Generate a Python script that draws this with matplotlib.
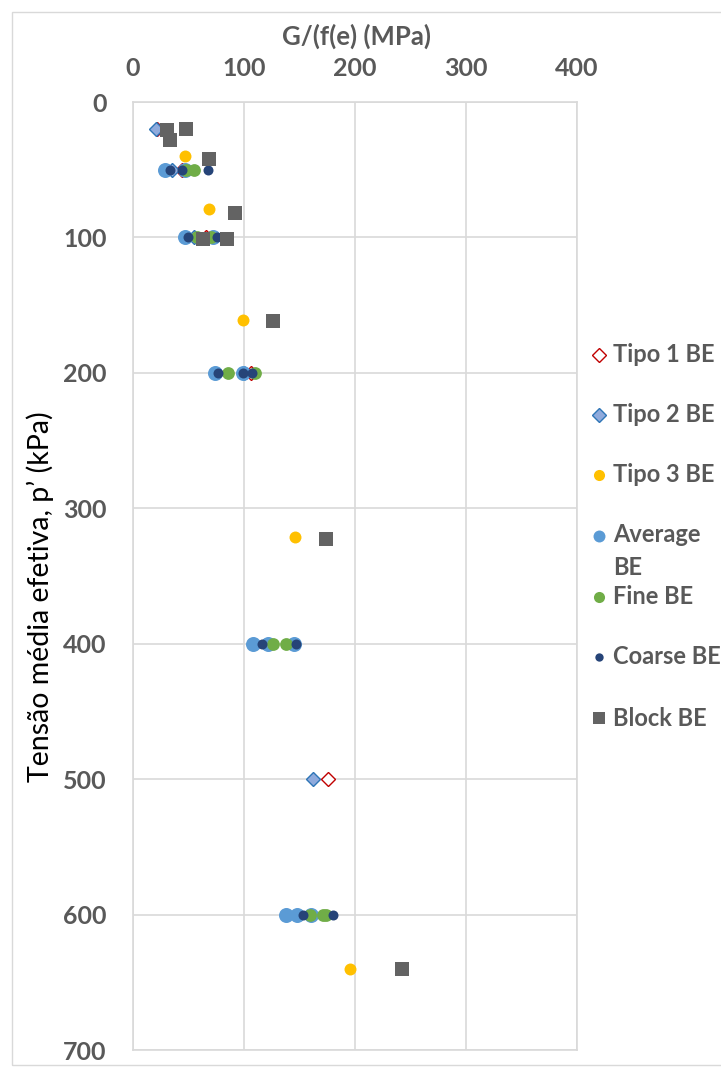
import numpy as np
import matplotlib.pyplot as plt
from matplotlib.lines import Line2D
from matplotlib.patches import Rectangle

# Dados: G/f(e) (MPa) vs p' (kPa)
tipo1_g = [22, 44, 66, 106, 176]
tipo1_p = [20, 50, 100, 200, 500]
tipo2_g = [21, 35, 55, 100, 162]
tipo2_p = [20, 50, 100, 200, 500]
tipo3_g = [47, 68.5, 99, 146, 195.5]
tipo3_p = [40, 79, 161, 321, 640]
average_g = [29, 47, 47, 72, 74, 99, 108, 122, 145, 138, 148, 160]
average_p = [50, 50, 100, 100, 200, 200, 400, 400, 400, 600, 600, 600]
fine_g = [48, 55, 58, 70, 86, 110, 126, 138, 159, 171, 174]
fine_p = [50, 50, 100, 100, 200, 200, 400, 400, 600, 600, 600]
coarse_g = [33, 44, 67.5, 49.5, 76, 76.5, 99, 107, 116, 147, 153, 180]
coarse_p = [50, 50, 50, 100, 100, 200, 200, 200, 400, 400, 600, 600]
block_g = [30.5, 33, 48, 68.5, 92, 63, 85, 126, 174, 242]
block_p = [21, 28, 20, 42, 82, 101, 101, 162, 323, 640]

plt.rcParams['font.family'] = ['Lato', 'DejaVu Sans']
grey = '#595959'

fig = plt.figure(figsize=(7.21, 10.73), dpi=100)
ax = fig.add_axes([0.1845, 0.0214, 0.6158, 0.8835])

series = [
    ('Tipo 1 BE', tipo1_g, tipo1_p, dict(marker='D', ms=7.5, mfc='white', mec='#C00000', mew=1.0)),
    ('Tipo 2 BE', tipo2_g, tipo2_p, dict(marker='D', ms=7.5, mfc='#8FAADC', mec='#2E75B6', mew=1.0)),
    ('Tipo 3 BE', tipo3_g, tipo3_p, dict(marker='o', ms=8.6, mfc='#FFC000', mec='#FFC000', mew=0)),
    ('Average\nBE', average_g, average_p, dict(marker='o', ms=10.8, mfc='#5B9BD5', mec='#5B9BD5', mew=0)),
    ('Fine BE', fine_g, fine_p, dict(marker='o', ms=9.2, mfc='#70AD47', mec='#70AD47', mew=0)),
    ('Coarse BE', coarse_g, coarse_p, dict(marker='o', ms=7.2, mfc='#264478', mec='#264478', mew=0)),
    ('Block BE', block_g, block_p, dict(marker='s', ms=9.4, mfc='#636363', mec='#636363', mew=0)),
]

for i, (name, g, p, st) in enumerate(series):
    ax.plot(g, p, ls='none', zorder=3 + i, **st)

ax.set_xlim(0, 400)
ax.set_ylim(700, 0)
ax.set_xticks([0, 100, 200, 300, 400])
ax.set_yticks(np.arange(0, 701, 100))
ax.xaxis.tick_top()
ax.tick_params(length=0, labelsize=18, labelcolor=grey)
ax.tick_params(axis='x', pad=16)
ax.tick_params(axis='y', pad=19)
for lbl in ax.get_xticklabels() + ax.get_yticklabels():
    lbl.set_fontweight('bold')
ax.grid(True, color='#D9D9D9', lw=1.2)
for s in ax.spines.values():
    s.set_color('#D9D9D9')
    s.set_linewidth(1.2)

fig.text(356 / 721, 1 - 36 / 1073, 'G/(f(e) (MPa)', ha='center', va='center',
         fontsize=18.5, fontweight='bold', color=grey)
fig.text(40 / 721, 1 - 597 / 1073, 'Tensão média efetiva, p’ (kPa)', rotation=90,
         ha='center', va='center', fontsize=20.5, color='black')

# legenda manual
rows = [355, 415, 475, 536, 597, 657, 718]
leg_ms = [7.5, 7.5, 8.0, 8.6, 8.0, 6.0, 8.5]
for (name, g, p, st), yy, lm in zip(series, rows, leg_ms):
    yf = 1 - yy / 1073
    st2 = dict(st, ms=lm)
    fig.add_artist(Line2D([599 / 721], [yf], ls='none', transform=fig.transFigure, **st2))
    if '\n' in name:
        fig.text(613 / 721, 1 - (yy - 13) / 1073, name, ha='left', va='top',
                 fontsize=17, fontweight='bold', color=grey, linespacing=1.55)
    else:
        fig.text(613 / 721, yf, name, ha='left', va='center',
                 fontsize=17, fontweight='bold', color=grey)

fig.add_artist(Rectangle((12 / 721, 8 / 1073), 1.2, 1 - 20 / 1073, transform=fig.transFigure,
                         fill=False, edgecolor='#D9D9D9', lw=1.0))

fig.savefig('out.png', dpi=100)
